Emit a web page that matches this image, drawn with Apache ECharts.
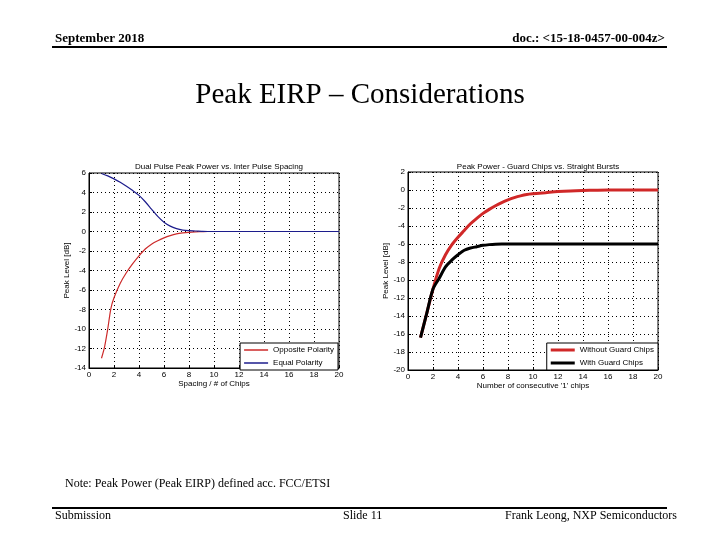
<!DOCTYPE html>
<html>
<head>
<meta charset="utf-8">
<script src="https://cdn.jsdelivr.net/npm/echarts@6/dist/echarts.min.js"></script>
<style>html,body{margin:0;padding:0;background:#fff}#c{width:720px;height:540px}</style>
</head>
<body>
<div id="c"></div>
<script>
// ---- Left chart: Dual Pulse Peak Power vs. Inter Pulse Spacing ----
const leftX_equal = [1,1.5,2,2.5,3,3.5,4,4.5,5,5.5,6,6.5,7,7.5,8,8.5,9,9.5,10,12,14,16,18,20];
const leftEqual   = [5.95,5.7,5.4,5.05,4.65,4.2,3.7,3.05,2.3,1.55,0.95,0.55,0.3,0.15,0.08,0.05,0.02,0,0,0,0,0,0,0];
const leftX_opp   = [1,1.25,1.5,1.75,2,2.5,3,3.5,4,4.5,5,5.5,6,6.5,7,7.5,8,8.5,9,9.5,10,12,14,16,18,20];
const leftOpposite= [-13.0,-11.8,-10.0,-7.9,-6.8,-5.3,-4.2,-3.3,-2.5,-1.8,-1.3,-0.95,-0.65,-0.42,-0.25,-0.15,-0.08,-0.04,-0.02,0,0,0,0,0,0,0];

// ---- Right chart: Peak Power - Guard Chips vs. Straight Bursts ----
const rightX_without = [1,1.5,2,2.5,3,3.5,4,4.5,5,5.5,6,6.5,7,7.5,8,8.5,9,9.5,10,11,12,13,14,15,16,18,20];
const rightWithout   = [-16.4,-13.7,-11.0,-8.7,-7.2,-6.1,-5.25,-4.5,-3.75,-3.15,-2.6,-2.15,-1.75,-1.4,-1.1,-0.85,-0.65,-0.5,-0.42,-0.3,-0.18,-0.1,-0.05,-0.02,0,0,0];
const rightX_with    = [1,1.5,2,2.5,3,3.5,4,4.5,5,5.5,6,6.5,7,7.5,8,10,12,14,16,18,20];
const rightWith      = [-16.4,-13.7,-11.0,-9.8,-8.55,-7.8,-7.2,-6.7,-6.45,-6.3,-6.15,-6.07,-6.02,-6.0,-6.0,-6.0,-6.0,-6.0,-6.0,-6.0,-6.0];

const xTicks = [0,2,4,6,8,10,12,14,16,18,20];
const leftYRange  = [-14, 6];
const rightYRange = [-20, 2];

const titles = ['Dual Pulse Peak Power vs. Inter Pulse Spacing', 'Peak Power - Guard Chips vs. Straight Bursts'];
const xNames = ['Spacing / # of Chips', "Number of consecutive '1' chips"];
const yName = 'Peak Level [dB]';
const legendNames = ['Opposite Polarity','Equal Polarity','Without Guard Chips','With Guard Chips'];

const pair = (xs, ys) => xs.map((x, i) => [x, ys[i]]);
const sans = 'Liberation Sans, Arial, sans-serif';
const serif = 'Liberation Serif, Times New Roman, serif';

function xAxis(gi, name) {
  return {
    gridIndex: gi, type: 'value', min: xTicks[0], max: xTicks[xTicks.length-1], interval: 2,
    name: name, nameLocation: 'middle', nameGap: 12,
    nameTextStyle: {fontSize: 8, color: '#000', fontFamily: sans},
    axisLine: {show: true, onZero: false, lineStyle: {color: '#000', width: 1}},
    axisTick: {show: true, inside: true, length: 3, lineStyle: {color: '#000'}},
    axisLabel: {fontSize: 8, color: '#000', margin: 3, fontFamily: sans},
    splitLine: {show: true, lineStyle: {color: '#000', type: [1, 3], width: 1}}
  };
}
function yAxis(gi, range) {
  return {
    gridIndex: gi, type: 'value', min: range[0], max: range[1], interval: 2,
    name: yName, nameLocation: 'middle', nameGap: 16,
    nameTextStyle: {fontSize: 8, color: '#000', fontFamily: sans},
    axisLine: {show: true, onZero: false, lineStyle: {color: '#000', width: 1}},
    axisTick: {show: true, inside: true, length: 3, lineStyle: {color: '#000'}},
    axisLabel: {fontSize: 8, color: '#000', margin: 3, fontFamily: sans},
    splitLine: {show: true, lineStyle: {color: '#000', type: [1, 3], width: 1}}
  };
}
const legendBase = {
  orient: 'vertical', icon: 'rect', itemWidth: 24, itemGap: 5, padding: [3, 4, 3, 4],
  backgroundColor: '#fff', borderColor: '#000', borderWidth: 1,
  textStyle: {fontSize: 8, color: '#000', fontFamily: sans}
};

const chart = echarts.init(document.getElementById('c'), null, {renderer: 'canvas'});
chart.setOption({
  backgroundColor: '#fff',
  animation: false,
  title: [
    {text: titles[0], left: 214, top: 158, textAlign: 'center', textStyle: {fontSize: 8, fontWeight: 'normal', color: '#000', fontFamily: sans}},
    {text: titles[1], left: 533, top: 158, textAlign: 'center', textStyle: {fontSize: 8, fontWeight: 'normal', color: '#000', fontFamily: sans}}
  ],
  grid: [
    {left: 89, right: 381, top: 173, bottom: 172, show: true, borderColor: '#000', borderWidth: 1, backgroundColor: '#fff'},
    {left: 408, right: 62, top: 172, bottom: 170, show: true, borderColor: '#000', borderWidth: 1, backgroundColor: '#fff'}
  ],
  xAxis: [xAxis(0, xNames[0]), xAxis(1, xNames[1])],
  yAxis: [yAxis(0, leftYRange), yAxis(1, rightYRange)],
  legend: [
    Object.assign({data: [legendNames[0], legendNames[1]], right: 382, top: 343, itemHeight: 1.5}, legendBase),
    Object.assign({data: [legendNames[2], legendNames[3]], right: 62, top: 343, itemHeight: 3}, legendBase)
  ],
  series: [
    {name: legendNames[0], type: 'line', xAxisIndex: 0, yAxisIndex: 0, data: pair(leftX_opp, leftOpposite),
     symbol: 'none', smooth: 0.3, color: '#cc2a2a', lineStyle: {width: 1.2, color: '#cc2a2a'}},
    {name: legendNames[1], type: 'line', xAxisIndex: 0, yAxisIndex: 0, data: pair(leftX_equal, leftEqual),
     symbol: 'none', smooth: 0.3, color: '#1c1c8c', lineStyle: {width: 1.2, color: '#1c1c8c'}},
    {name: legendNames[2], type: 'line', xAxisIndex: 1, yAxisIndex: 1, data: pair(rightX_without, rightWithout),
     symbol: 'none', smooth: 0.3, color: '#d02828', lineStyle: {width: 3, color: '#d02828'}},
    {name: legendNames[3], type: 'line', xAxisIndex: 1, yAxisIndex: 1, data: pair(rightX_with, rightWith),
     symbol: 'none', smooth: 0.3, color: '#000', lineStyle: {width: 3, color: '#000'}}
  ],
  graphic: [
    {type: 'text', left: 55, top: 32, style: {text: 'September 2018', font: 'bold 13px ' + serif, fill: '#000'}},
    {type: 'text', right: 55, top: 32, style: {text: 'doc.: <15-18-0457-00-004z>', font: 'bold 13px ' + serif, fill: '#000'}},
    {type: 'rect', shape: {x: 52, y: 46, width: 615, height: 2}, style: {fill: '#000'}},
    {type: 'text', left: 'center', top: 81, style: {text: 'Peak EIRP \u2013 Considerations', font: '29px ' + serif, fill: '#000'}},
    {type: 'text', left: 65, top: 478, style: {text: 'Note: Peak Power (Peak EIRP) defined acc. FCC/ETSI', font: '12px ' + serif, fill: '#000'}},
    {type: 'rect', shape: {x: 52, y: 507, width: 615, height: 2}, style: {fill: '#000'}},
    {type: 'text', left: 55, top: 510, style: {text: 'Submission', font: '12px ' + serif, fill: '#000'}},
    {type: 'text', left: 343, top: 510, style: {text: 'Slide 11', font: '12px ' + serif, fill: '#000'}},
    {type: 'text', right: 43, top: 510, style: {text: 'Frank Leong, NXP Semiconductors', font: '12px ' + serif, fill: '#000'}}
  ]
});
</script>
</body>
</html>
